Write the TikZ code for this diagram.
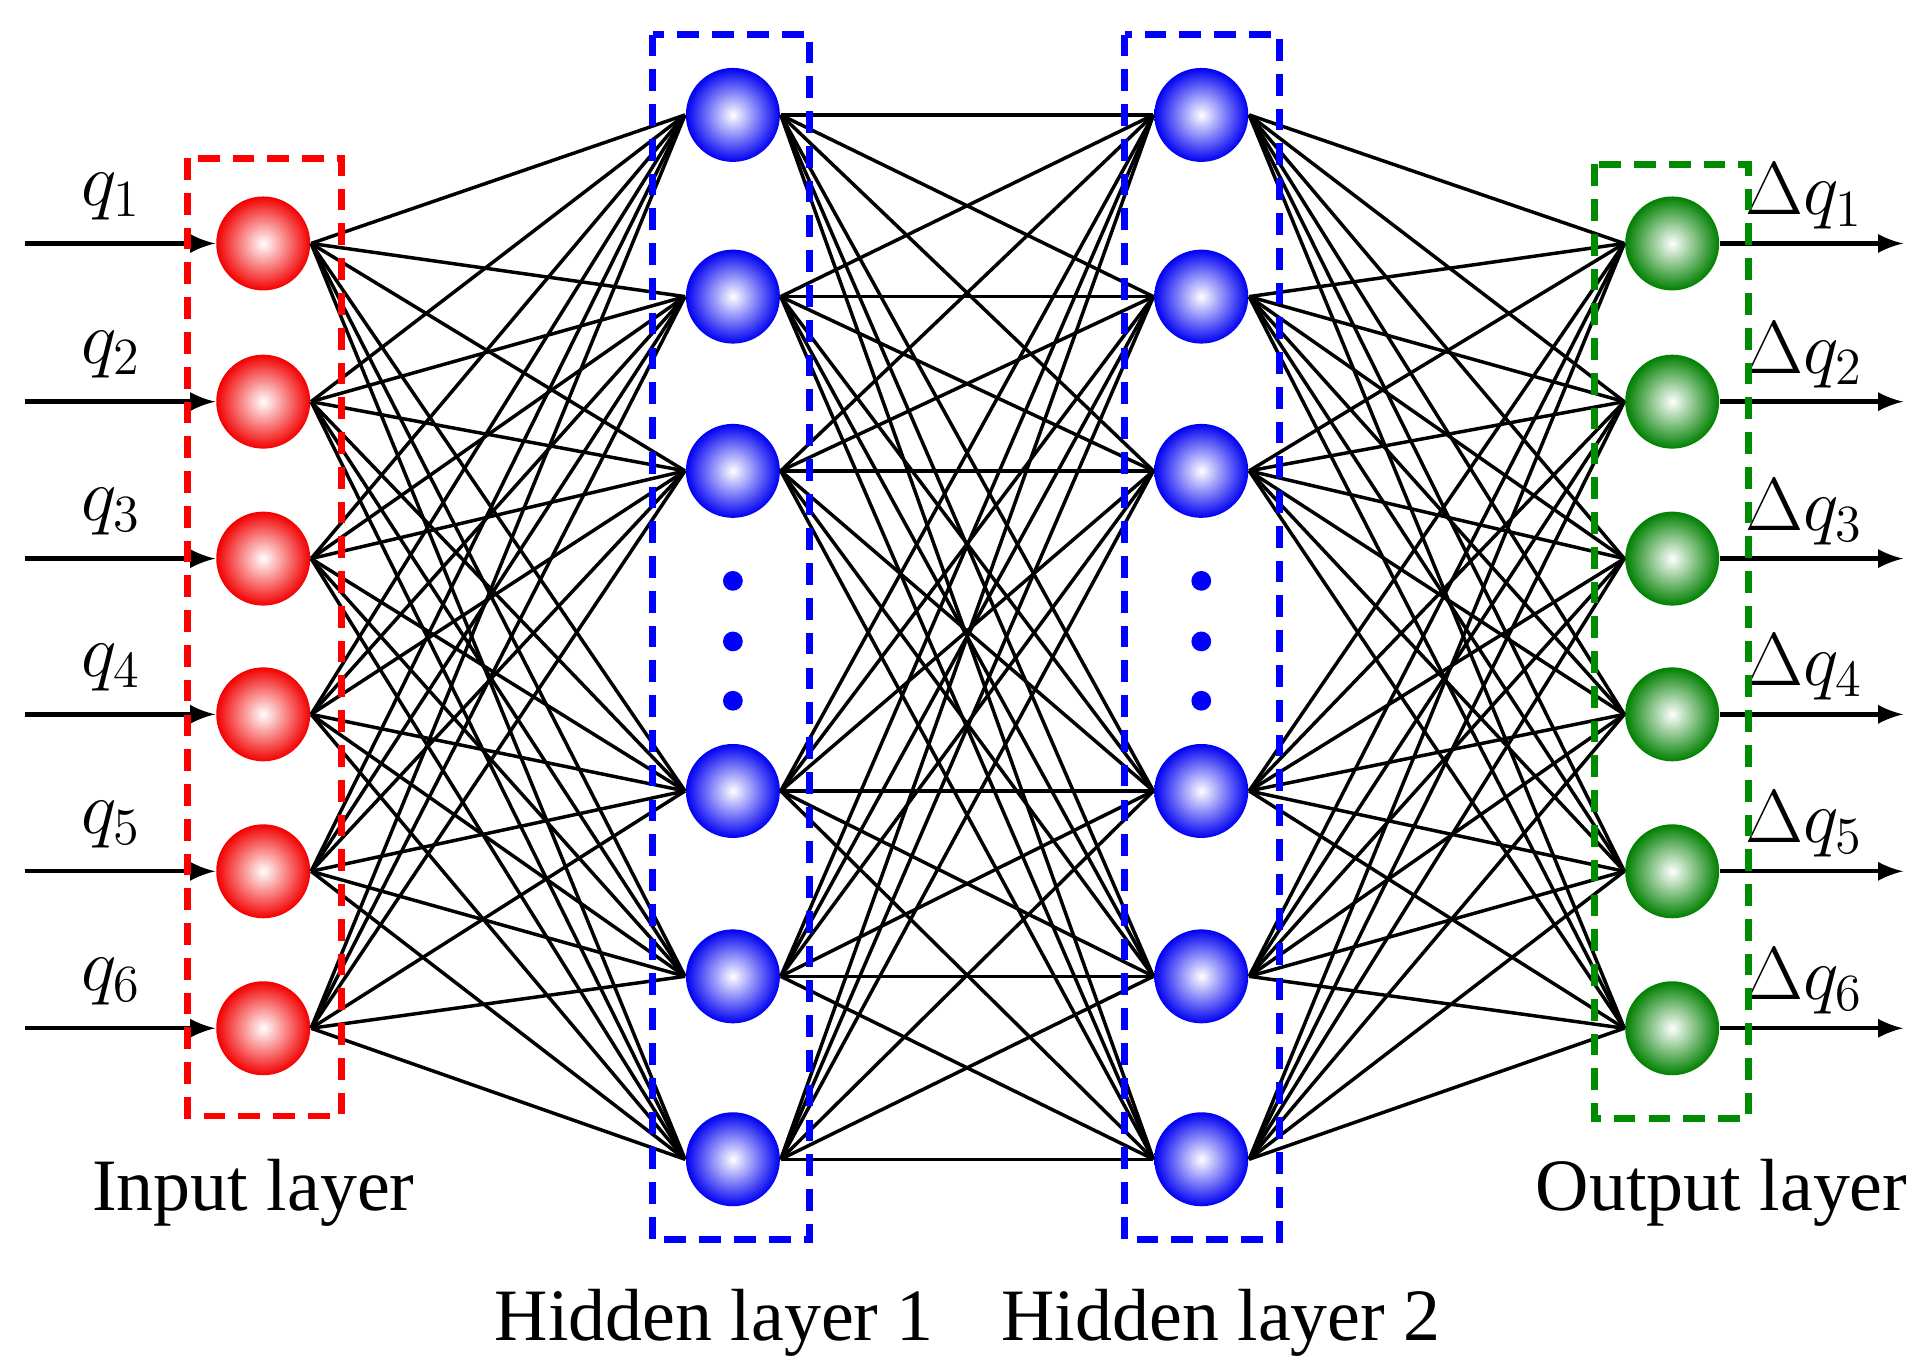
\documentclass[tikz,border=0pt]{standalone}
\usepackage{fontspec}
\setmainfont{Liberation Serif}
\begin{document}
\begin{tikzpicture}[x=0.01cm,y=-0.01cm,
  neu/.style={circle,minimum size=0.76cm,inner sep=0pt,shading=radial},
  rn/.style={neu,inner color=white,outer color=red!95!black},
  bn/.style={neu,inner color=white,outer color=blue!95!black},
  gn/.style={neu,inner color=white,outer color=green!50!black},
  edge/.style={black,line width=0.8pt},
  box/.style={dashed,line width=1.6pt,dash pattern=on 5pt off 3pt},
  io/.style={-latex,line width=1pt},
  lab/.style={font=\fontsize{17}{20}\selectfont}]
\useasboundingbox (0,0) rectangle (1560,1110);
\foreach \i/\y in {1/197,2/325,3/452,4/578,5/705,6/832}{
  \node[rn] (i\i) at (213,\y) {};
  \node[gn] (o\i) at (1353,\y) {};
}
\foreach \i/\y in {1/93,2/240,3/381,4/640,5/790,6/938}{
  \node[bn] (a\i) at (593,\y) {};
  \node[bn] (b\i) at (972,\y) {};
}
\begin{scope}[on background layer/.style={}]
\foreach \i in {1,...,6}{\foreach \j in {1,...,6}{
  \draw[edge] (i\i.east) -- (a\j.west);
  \draw[edge] (a\i.east) -- (b\j.west);
  \draw[edge] (b\i.east) -- (o\j.west);
}}
\end{scope}
\foreach \i in {1,...,6}{
  \coordinate (s\i) at (20,0 |- i\i);
  \coordinate (e\i) at (1540,0 |- o\i);
  \draw[io] (s\i) -- (i\i.west);
  \draw[io] (o\i.east) -- (e\i);
  \node[lab] (ql\i) at ([shift={(-123,-38)}]i\i) {$q_{\i}$};
  \node[lab] (dl\i) at ([shift={(107,-38)}]o\i) {$\Delta q_{\i}$};
}
\foreach \y in {470,519,567}{
  \fill[blue] (593,\y) circle (8);
  \fill[blue] (972,\y) circle (8);
}
\draw[box,red] (152,128) rectangle (276,903);
\draw[box,blue] (528,28) rectangle (655,1003);
\draw[box,blue] (910,28) rectangle (1035,1003);
\draw[box,green!55!black] (1290,133) rectangle (1415,905);
\node[lab] (t1) at (205,965) {Input layer};
\node[lab] (t2) at (1393,965) {Output layer};
\node[lab] (t3) at (578,1070) {Hidden layer 1};
\node[lab] (t4) at (988,1070) {Hidden layer 2};
\end{tikzpicture}
\end{document}
